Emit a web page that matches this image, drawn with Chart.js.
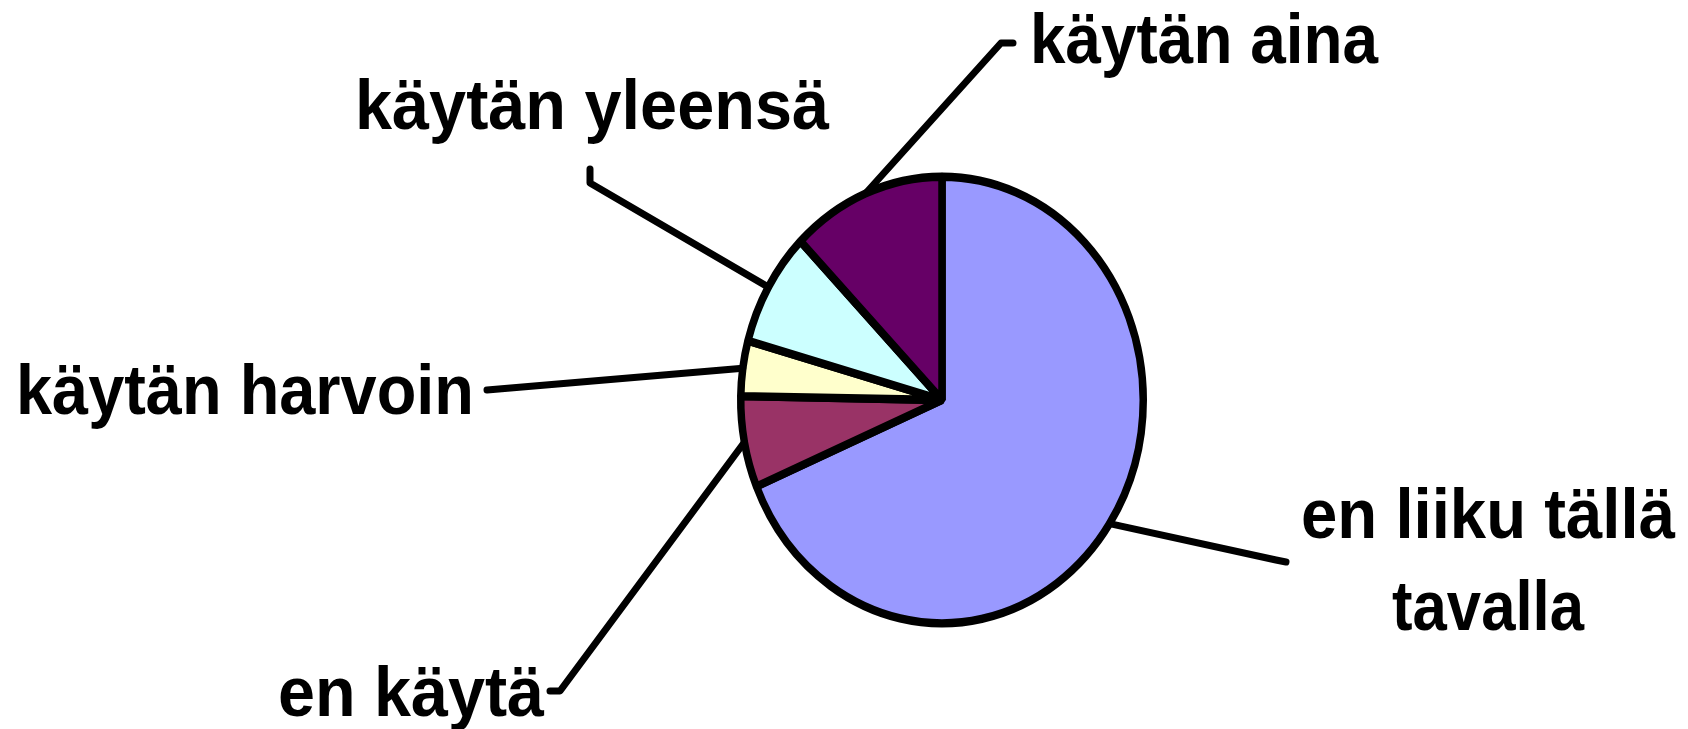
<!DOCTYPE html>
<html>
<head>
<meta charset="utf-8">
<script src="https://cdn.jsdelivr.net/npm/chart.js@4/dist/chart.umd.min.js"></script>
<style>
  html, body { margin: 0; padding: 0; background: #fff; }
  canvas { display: block; }
</style>
</head>
<body>
<canvas id="pieChart" width="1688" height="729"></canvas>
<script>
// Slices, clockwise from 12 o'clock (percent)
const categories = ["en liiku tällä tavalla", "en käytä", "käytän harvoin", "käytän yleensä", "käytän aina"];
const labelLines = [["en liiku tällä", "tavalla"], ["en käytä"], ["käytän harvoin"], ["käytän yleensä"], ["käytän aina"]];
const shares = [68.6, 6.6, 4.0, 8.3, 12.4];
const sliceColors = ["#9999FF", "#993366", "#FFFFCC", "#CCFFFF", "#660066"];

// Where each label sits: elbow of the leader line, short tick end, text anchor,
// and the width each text line is fitted to (the original font is condensed)
const labelLayout = [
  { elbow: [1276, 560], tick: [1286, 562], text: [1488, 538], align: "center", widths: [374, 192] },
  { elbow: [560, 691], tick: [550, 691], text: [544, 716], align: "right", widths: [266] },
  { elbow: [487, 390], tick: null, text: [474, 414], align: "right", widths: [458] },
  { elbow: [590, 183], tick: [590, 169], text: [592, 129], align: "center", widths: [474] },
  { elbow: [1001, 43], tick: [1013, 43], text: [1030, 63], align: "left", widths: [348] }
];

const yStretch = 223 / 201;   // the pie is a bit taller than wide
const fontSpec = "bold 71px 'Liberation Sans', Arial, sans-serif";
const lineGap = 92;

// Squash the round pie into the tall ellipse
const ellipsePlugin = {
  id: "ellipse",
  beforeDatasetsDraw(chart) {
    const arc = chart.getDatasetMeta(0).data[0];
    const ctx = chart.ctx;
    ctx.save();
    ctx.translate(arc.x, arc.y);
    ctx.scale(1, yStretch);
    ctx.translate(-arc.x, -arc.y);
  },
  afterDatasetsDraw(chart) {
    chart.ctx.restore();
  }
};

// Leader lines and the big labels
const calloutPlugin = {
  id: "callouts",
  afterDraw(chart) {
    const ctx = chart.ctx;
    const arcs = chart.getDatasetMeta(0).data;
    ctx.save();
    ctx.strokeStyle = "#000";
    ctx.lineWidth = 7;
    ctx.lineCap = "round";
    ctx.lineJoin = "round";
    arcs.forEach((arc, i) => {
      const mid = (arc.startAngle + arc.endAngle) / 2;
      const ex = arc.x + Math.cos(mid) * arc.outerRadius;
      const ey = arc.y + Math.sin(mid) * arc.outerRadius * yStretch;
      const lay = labelLayout[i];
      ctx.beginPath();
      ctx.moveTo(ex, ey);
      ctx.lineTo(lay.elbow[0], lay.elbow[1]);
      if (lay.tick) ctx.lineTo(lay.tick[0], lay.tick[1]);
      ctx.stroke();

      ctx.fillStyle = "#000";
      ctx.font = fontSpec;
      ctx.textAlign = lay.align;
      ctx.textBaseline = "alphabetic";
      labelLines[i].forEach((line, j) => {
        const sx = lay.widths[j] / ctx.measureText(line).width;
        ctx.save();
        ctx.translate(lay.text[0], lay.text[1] + j * lineGap);
        ctx.scale(sx, 1);
        ctx.fillText(line, 0, 0);
        ctx.restore();
      });
    });
    ctx.restore();
  }
};

new Chart(document.getElementById("pieChart"), {
  type: "pie",
  data: {
    labels: categories,
    datasets: [{
      data: shares,
      backgroundColor: sliceColors,
      borderColor: "#000",
      borderWidth: 7.5,
      clip: false
    }]
  },
  options: {
    responsive: false,
    devicePixelRatio: 1,
    animation: false,
    layout: { padding: { left: 737, right: 541, top: 195, bottom: 124 } },
    plugins: {
      legend: { display: false },
      tooltip: { enabled: false }
    }
  },
  plugins: [ellipsePlugin, calloutPlugin]
});
</script>
</body>
</html>
